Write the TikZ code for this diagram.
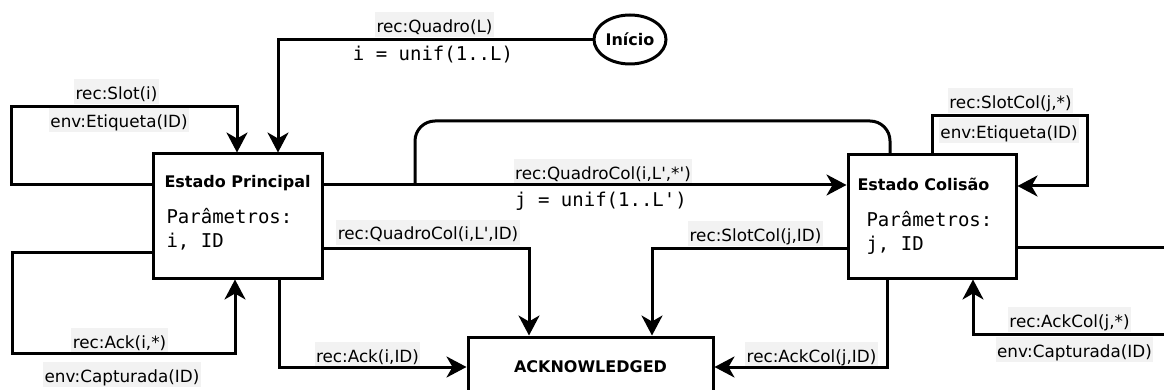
\documentclass[tikz,border=0pt]{standalone}
\usepackage{fontspec}
\setmainfont{DejaVu Sans}
\setmonofont{DejaVu Sans Mono}
\usetikzlibrary{arrows.meta,shapes.geometric}
\begin{document}
\begin{tikzpicture}[x=1pt,y=-1pt,
  line width=3pt,
  arr/.style={-{Stealth[length=20pt,width=21pt,inset=6pt]}},
  stbox/.style={draw, rectangle, line width=3pt, inner sep=0pt, fill=white},
  lbl/.style={fill=gray!10, inner xsep=1.5pt, inner ysep=1.5pt, text height=19pt, text depth=3pt, anchor=base, font=\fontsize{16.8}{20}\selectfont},
  mono/.style={anchor=base, inner sep=0pt, font=\ttfamily\fontsize{19}{22}\selectfont},
  ttl/.style={anchor=base west, inner sep=0pt, font=\bfseries\fontsize{16}{19}\selectfont},
]
\useasboundingbox (0,0) rectangle (1164,390);
\clip (0,0) rectangle (1164,390);

% states
\node[stbox, minimum width=169pt, minimum height=124pt] (P) at (237.5,216) {};
\node[stbox, minimum width=168pt, minimum height=123pt] (C) at (932,216.5) {};
\node[stbox, minimum width=245pt, minimum height=60pt, font=\bfseries\fontsize{16}{19}\selectfont] (A) at (590.5,367) {ACKNOWLEDGED};
\node[draw, ellipse, line width=3pt, minimum width=72pt, minimum height=49pt, inner sep=0pt, font=\bfseries\fontsize{16}{19}\selectfont] (I) at (630,39.5) {Início};

% texts inside states
\node[ttl] (Pt) at (163,188) {Estado Principal};
\node[mono, anchor=base west] (Pp1) at (165,223) {Parâmetros:};
\node[mono, anchor=base west] (Pp2) at (165,247) {i, ID};
\node[ttl] (Ct) at (856,190) {Estado Colisão};
\node[mono, anchor=base west] (Cp1) at (865,226) {Parâmetros:};
\node[mono, anchor=base west] (Cp2) at (865,250) {j, ID};

% labels
\node[lbl] (l1) at (116.5,100) {rec:Slot(i)};
\node[lbl] (l2) at (119,128) {env:Etiqueta(ID)};
\node[lbl] (l3) at (434.5,33) {rec:Quadro(L)};
\node[mono] (l4) at (433,61) {i = unif(1..L)};
\node[lbl] (l5) at (603,180) {rec:QuadroCol(i,L\textquotesingle,*\textquotesingle)};
\node[mono] (l6) at (601,207) {j = unif(1..L\textquotesingle)};
\node[lbl] (l7) at (1010.5,109) {rec:SlotCol(j,*)};
\node[lbl] (l8) at (1009,139) {env:Etiqueta(ID)};
\node[lbl] (l9) at (428,240) {rec:QuadroCol(i,L\textquotesingle,ID)};
\node[lbl] (l10) at (755.5,241) {rec:SlotCol(j,ID)};
\node[lbl] (l11) at (119.5,348) {rec:Ack(i,*)};
\node[lbl] (l12) at (122,382) {env:Capturada(ID)};
\node[lbl] (l13) at (367.5,362) {rec:Ack(i,ID)};
\node[lbl] (l14) at (811.5,362) {rec:AckCol(j,ID)};
\node[lbl] (l15) at (1069.5,327) {rec:AckCol(j,*)};
\node[lbl] (l16) at (1074.5,357) {env:Capturada(ID)};

\coordinate (j1) at (415,185);

% connectors
\draw[arr] (I.west) -| (P.north -| 278,0);
\draw[arr] (P.west |- 0,185) -- (11,185) -- (11,107) -- (237,107) -- (P.north -| 237,0);
\draw[rounded corners=20pt] (j1) -- (415,121) -- (890,121) -- (C.north -| 890,0);
\draw[arr] (P.east |- 0,185) -- (C.west |- 0,185);
\draw[arr] (P.east |- 0,248) -- (529,248) -- (A.north -| 529,0);
\draw[arr] (P.south -| 279,0) -- (279,367) -- (A.west |- 0,367);
\draw[arr] (P.west |- 0,252) -- (12,252) -- (12,353) -- (235,353) -- (P.south -| 235,0);
\draw[arr] (C.west |- 0,248) -- (652,248) -- (A.north -| 652,0);
\draw[arr] (C.south -| 887,0) -- (887,367) -- (A.east |- 0,367);
\draw[arr] (C.north -| 932,0) -- (932,116) -- (1087,116) -- (1087,186) -- (C.east |- 0,186);
\draw[arr] (C.east |- 0,247) -- (1190,247) -- (1190,334) -- (973,334) -- (C.south -| 973,0);
\end{tikzpicture}
\end{document}
